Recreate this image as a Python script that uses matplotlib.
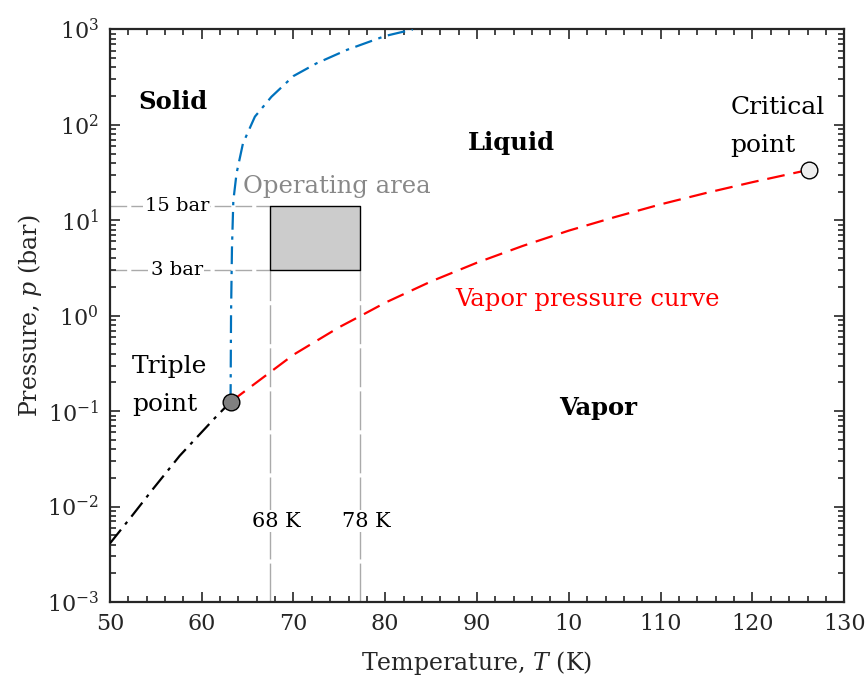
import numpy as np
import matplotlib.pyplot as plt
from matplotlib.ticker import MultipleLocator, LogLocator, NullFormatter

plt.rcParams['font.family'] = 'DejaVu Serif'
plt.rcParams['mathtext.fontset'] = 'dejavuserif'

# Vapor pressure curve (liquid-vapor), K / bar
T_vap = [63.15, 65, 70, 75, 77.35, 80, 85, 90, 95, 100, 105, 110, 115, 120, 126.2]
p_vap = [0.125, 0.17, 0.39, 0.76, 1.0, 1.37, 2.29, 3.6, 5.4, 7.8, 10.8, 14.7, 19.4, 25.1, 33.9]

# Melting curve (solid-liquid)
T_melt = [63.15, 63.2, 63.3, 63.45, 63.8, 64.5, 65.8, 67.6, 70.0, 72.5, 75.8, 80.0, 83.0]
p_melt = [0.125, 1.0, 5, 16, 31, 64, 122, 197, 325, 441, 610, 855, 1000]

# Sublimation curve (solid-vapor)
T_sub = [50, 52.5, 54.7, 57.6, 61.4, 63.15]
p_sub = [0.0041, 0.0082, 0.0153, 0.034, 0.084, 0.125]

# Triple and critical point
T_tp, p_tp = 63.15, 0.125
T_cp, p_cp = 126.2, 33.9

# Operating area
T_op = [67.4, 77.3]
p_op = [3, 14]

xticks = [50, 60, 70, 80, 90, 100, 110, 120, 130]
xticklabels = ['50', '60', '70', '80', '90', '10', '110', '120', '130']

fig = plt.figure(figsize=(8.65, 6.79), dpi=100)
ax = fig.add_axes([0.127, 0.1134, 0.849, 0.8432])

grey = '#aaaaaa'
# guide lines for operating area
ax.plot([50, T_op[0]], [p_op[1], p_op[1]], color=grey, lw=1, dashes=(12, 3), zorder=1)
ax.plot([50, T_op[0]], [p_op[0], p_op[0]], color=grey, lw=1, dashes=(12, 3), zorder=1)
ax.plot([T_op[0], T_op[0]], [1e-3, p_op[0]], color=grey, lw=1, dashes=(28, 3), zorder=1)
ax.plot([T_op[1], T_op[1]], [1e-3, p_op[0]], color=grey, lw=1, dashes=(28, 3), zorder=1)

ax.fill_between(T_op, p_op[0], p_op[1], facecolor='#cccccc', edgecolor='black', lw=1, zorder=2)

ax.plot(T_sub, p_sub, color='black', lw=1.6, dashes=(8, 3, 1.5, 3), zorder=3)
ax.plot(T_vap, p_vap, color='red', lw=1.6, dashes=(8, 4), zorder=3)
ax.plot(T_melt, p_melt, color='#0072BD', lw=1.6, dashes=(8, 3, 1.5, 3), zorder=3)

ax.plot(T_tp, p_tp, 'o', ms=12, mfc='#808080', mec='black', mew=1, zorder=4)
ax.plot(T_cp, p_cp, 'o', ms=12, mfc='#eeeeee', mec='black', mew=1, zorder=4)

# labels
bb = dict(facecolor='white', edgecolor='none', pad=1)
ax.text(57.3, 14, '15 bar', fontsize=14, ha='center', va='center', bbox=bb, zorder=2)
ax.text(57.3, 3, '3 bar', fontsize=14, ha='center', va='center', bbox=bb, zorder=2)
ax.text(68.1, 0.007, '68 K', fontsize=15, ha='center', va='center', bbox=bb, zorder=2)
ax.text(77.9, 0.007, '78 K', fontsize=15, ha='center', va='center', bbox=bb, zorder=2)

ax.text(56.9, 174, 'Solid', fontsize=17.5, fontweight='bold', ha='center', va='center')
ax.text(93.8, 64, 'Liquid', fontsize=17.5, fontweight='bold', ha='center', va='center')
ax.text(103.2, 0.109, 'Vapor', fontsize=17.5, fontweight='bold', ha='center', va='center')
ax.text(117.6, 97, 'Critical\npoint', fontsize=18, ha='left', va='center', linespacing=1.85)
ax.text(52.4, 0.186, 'Triple\npoint', fontsize=18, ha='left', va='center', linespacing=1.8)
ax.text(64.5, 22.8, 'Operating area', fontsize=17.5, color='#888888', ha='left', va='center')
ax.text(87.6, 1.49, 'Vapor pressure curve', fontsize=17.5, color='red', ha='left', va='center')

ax.set_yscale('log')
ax.set_xlim(50, 130)
ax.set_ylim(1e-3, 1e3)
ax.set_xticks(xticks)
ax.set_xticklabels(xticklabels)
ax.xaxis.set_minor_locator(MultipleLocator(2))
ax.yaxis.set_major_locator(LogLocator(base=10, numticks=10))
ax.yaxis.set_minor_locator(LogLocator(base=10, subs=np.arange(2, 10), numticks=10))
ax.yaxis.set_minor_formatter(NullFormatter())

ax.tick_params(which='both', direction='in', top=True, right=True, labelsize=16,
               colors='#262626', width=1.2)
ax.tick_params(which='major', length=7, pad=8)
ax.tick_params(which='minor', length=4)
for s in ax.spines.values():
    s.set_linewidth(1.6)
    s.set_color('#262626')

ax.set_xlabel('Temperature, $T$ (K)', fontsize=17, color='#262626')
ax.set_ylabel('Pressure, $p$ (bar)', fontsize=17, color='#262626')
ax.xaxis.set_label_coords(0.5, -0.082)
ax.yaxis.set_label_coords(-0.09, 0.5)

fig.savefig('out.png', dpi=100)
